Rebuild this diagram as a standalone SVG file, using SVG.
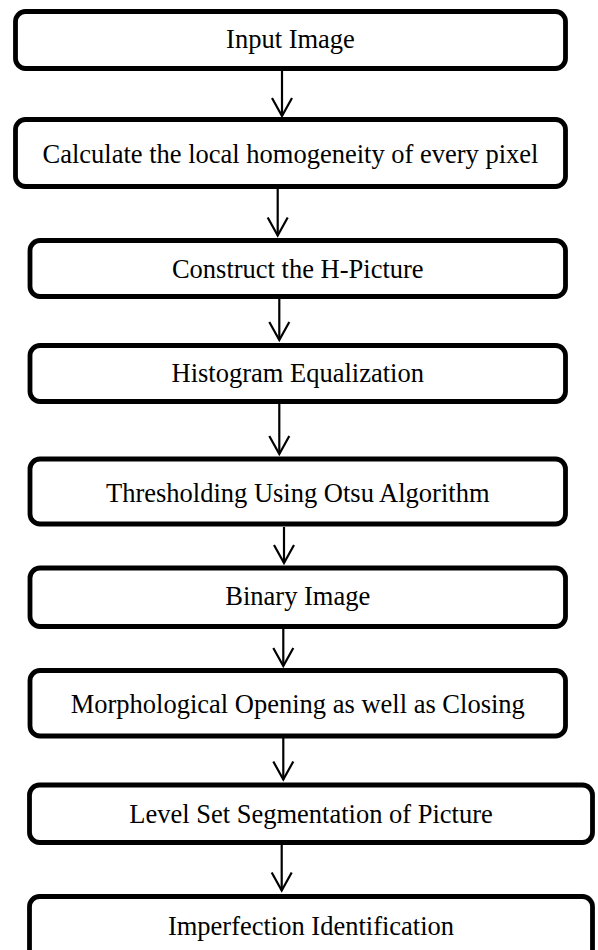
<svg xmlns="http://www.w3.org/2000/svg" width="598" height="950" viewBox="0 0 598 950">
<style>
.box{fill:#fff;stroke:#000;stroke-width:4.8}
.lbl{font-family:"Liberation Serif","Times New Roman",serif;font-size:26.5px;fill:#000;text-anchor:middle}
.conn{stroke:#000;stroke-width:2.2;fill:none;marker-end:url(#arr)}
</style>
<defs>
<marker id="arr" markerUnits="userSpaceOnUse" markerWidth="40" markerHeight="40" refX="0" refY="0" orient="auto" overflow="visible">
<path d="M-18,-10 L0,0 L-18,10" fill="none" stroke="#000" stroke-width="2.2"/>
</marker>
</defs>
<rect width="598" height="950" fill="#fff"/>
<g id="connectors">
<line class="conn" x1="282" y1="71" x2="282" y2="116"/>
<line class="conn" x1="277.7" y1="189" x2="277.7" y2="235.5"/>
<line class="conn" x1="279.3" y1="299" x2="279.3" y2="340"/>
<line class="conn" x1="279.3" y1="404" x2="279.3" y2="454"/>
<line class="conn" x1="284" y1="527" x2="284" y2="563"/>
<line class="conn" x1="283.3" y1="629" x2="283.3" y2="666"/>
<line class="conn" x1="283.3" y1="738" x2="283.3" y2="779.5"/>
<line class="conn" x1="281.7" y1="845" x2="281.7" y2="890.5"/>
</g>
<g id="n1"><rect class="box" x="15.5" y="11.5" width="550" height="57" rx="10"/><text class="lbl" x="290.5" y="48">Input Image</text></g>
<g id="n2"><rect class="box" x="15.5" y="119.5" width="550" height="67" rx="10"/><text class="lbl" x="290.5" y="163">Calculate the local homogeneity of every pixel</text></g>
<g id="n3"><rect class="box" x="30" y="240.5" width="535.5" height="56" rx="10"/><text class="lbl" x="297.75" y="278">Construct the H-Picture</text></g>
<g id="n4"><rect class="box" x="30" y="345.5" width="535.5" height="56" rx="10"/><text class="lbl" x="297.75" y="382">Histogram Equalization</text></g>
<g id="n5"><rect class="box" x="30" y="459" width="535.5" height="65" rx="10"/><text class="lbl" x="297.75" y="502">Thresholding Using Otsu Algorithm</text></g>
<g id="n6"><rect class="box" x="30" y="568" width="535.5" height="58.5" rx="10"/><text class="lbl" x="297.75" y="605">Binary Image</text></g>
<g id="n7"><rect class="box" x="30" y="670.5" width="535.5" height="65.5" rx="10"/><text class="lbl" x="297.75" y="713">Morphological Opening as well as Closing</text></g>
<g id="n8"><rect class="box" x="29.5" y="785" width="563" height="57.5" rx="10"/><text class="lbl" x="311" y="823">Level Set Segmentation of Picture</text></g>
<g id="n9"><rect class="box" x="29.5" y="896.5" width="563" height="70" rx="10"/><text class="lbl" x="311" y="935">Imperfection Identification</text></g>
</svg>
